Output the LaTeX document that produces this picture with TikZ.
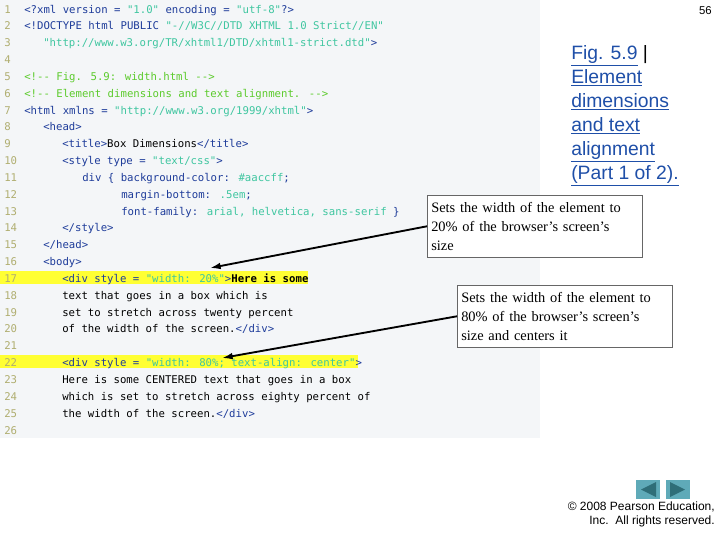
\documentclass[tikz,border=0pt]{standalone}
\usepackage{fontspec}
\usetikzlibrary{arrows.meta}
\setmainfont{Liberation Serif}
\newfontfamily\codef{DejaVu Sans Mono}
\newfontfamily\arial{Liberation Sans}
\definecolor{codebg}{HTML}{F4F6F8}
\definecolor{tagc}{HTML}{1E3C9A}
\definecolor{strc}{HTML}{3FC6A0}
\definecolor{cmc}{HTML}{5CCB2C}
\definecolor{numc}{HTML}{B0AE70}
\definecolor{hl}{HTML}{FFFF33}
\definecolor{linkc}{HTML}{1F4FA8}
\definecolor{navc}{HTML}{5FAAB8}
\definecolor{navd}{HTML}{2F6E78}
\newcommand\tg[1]{\textcolor{tagc}{#1}}
\newcommand\st[1]{\textcolor{strc}{#1}}
\newcommand\cm[1]{\textcolor{cmc}{#1}}
\newlength\px \setlength\px{0.75pt}
\tikzset{
  codeline/.style={anchor=base west,inner sep=0pt,font=\codef\fontsize{8}{9}\selectfont},
  lnum/.style={anchor=base west,inner sep=0pt,text=numc,font=\codef\fontsize{8}{9}\selectfont},
  callout/.style={draw=black!60,fill=white,anchor=north west,align=left,minimum width=215\px,minimum height=62\px,text width=207\px,inner sep=4\px,font=\fontsize{10.8}{14.2}\selectfont},
  arr/.style={-{Latex[length=8pt,width=5pt]},line width=1.4pt}
}
\begin{document}
\begin{tikzpicture}[x=0.75pt,y=-0.75pt]
\useasboundingbox (0,0) rectangle (720,540);
\fill[codebg] (0,0) rectangle (540,438);
\fill[hl] (0,271) rectangle (308,284);
\fill[hl] (0,355) rectangle (358,368);
\foreach \n in {1,...,26} { \node[lnum] (n\n) at (4,{13+(\n-1)*16.84}) {\n}; }
\def\Y#1{{13+(#1-1)*16.84}}
\node[codeline] (c1) at (24,\Y{1}) {\tg{<?xml version =} \st{"1.0"} \tg{encoding =} \st{"utf-8"}\tg{?>}};
\node[codeline] (c2) at (24,\Y{2}) {\tg{<!DOCTYPE html PUBLIC} \st{"-//W3C//DTD XHTML 1.0 Strict//EN"}};
\node[codeline] (c3) at (43,\Y{3}) {\st{"http://www.w3.org/TR/xhtml1/DTD/xhtml1-strict.dtd"}\tg{>}};
\node[codeline] (c5) at (24,\Y{5}) {\cm{<!-{}- Fig. 5.9: width.html -{}->}};
\node[codeline] (c6) at (24,\Y{6}) {\cm{<!-{}- Element dimensions and text alignment. -{}->}};
\node[codeline] (c7) at (24,\Y{7}) {\tg{<html xmlns =} \st{"http://www.w3.org/1999/xhtml"}\tg{>}};
\node[codeline] (c8) at (43,\Y{8}) {\tg{<head>}};
\node[codeline] (c9) at (62,\Y{9}) {\tg{<title>}Box Dimensions\tg{</title>}};
\node[codeline] (c10) at (62,\Y{10}) {\tg{<style type =} \st{"text/css"}\tg{>}};
\node[codeline] (c11) at (82,\Y{11}) {\tg{div \{ background-color:} \st{\#aaccff}\tg{;}};
\node[codeline] (c12) at (121,\Y{12}) {\tg{margin-bottom:} \st{.5em}\tg{;}};
\node[codeline] (c13) at (121,\Y{13}) {\tg{font-family:} \st{arial, helvetica, sans-serif} \tg{\}}};
\node[codeline] (c14) at (62,\Y{14}) {\tg{</style>}};
\node[codeline] (c15) at (43,\Y{15}) {\tg{</head>}};
\node[codeline] (c16) at (43,\Y{16}) {\tg{<body>}};
\node[codeline] (c17) at (62,\Y{17}) {\tg{<div style =} \st{"width: 20\%"}\tg{>}\textbf{Here is some}};
\node[codeline] (c18) at (62,\Y{18}) {text that goes in a box which is};
\node[codeline] (c19) at (62,\Y{19}) {set to stretch across twenty percent};
\node[codeline] (c20) at (62,\Y{20}) {of the width of the screen.\tg{</div>}};
\node[codeline] (c22) at (62,\Y{22}) {\tg{<div style =} \st{"width: 80\%; text-align: center"}\tg{>}};
\node[codeline] (c23) at (62,\Y{23}) {Here is some CENTERED text that goes in a box};
\node[codeline] (c24) at (62,\Y{24}) {which is set to stretch across eighty percent of};
\node[codeline] (c25) at (62,\Y{25}) {the width of the screen.\tg{</div>}};
\coordinate (t1) at (210,268);
\coordinate (t2) at (222,358);
\node[anchor=north east,inner sep=0pt,font=\arial\fontsize{8.5}{9}\selectfont] (pg) at (712,6) {56};
\node[anchor=north west,inner sep=0pt,align=left,text=linkc,font=\arial\fontsize{14.5}{18}\selectfont] (title) at (571,45)
 {\underline{Fig. 5.9} \textcolor{black}{|}\\ \underline{Element}\\ \underline{dimensions}\\ \underline{and text}\\ \underline{alignment}\\ \underline{(Part 1 of 2).}};
\node[callout] (b1) at (427,195) {Sets the width of the element to\\ 20\% of the browser’s screen’s\\ size};
\node[callout] (b2) at (457,285) {Sets the width of the element to\\ 80\% of the browser’s screen’s\\ size and centers it};
\draw[arr] (b1.west) -- (t1);
\draw[arr] (b2.west) -- (t2);
\fill[navc] (636,480) rectangle (660,499);
\fill[navc] (666,480) rectangle (690,499);
\fill[navd] (641,489.5) -- (656,482) -- (656,497) -- cycle;
\fill[navd] (685,489.5) -- (670,482) -- (670,497) -- cycle;
\node[anchor=north east,align=right,inner sep=0pt,font=\arial\fontsize{9}{10.5}\selectfont] (copy) at (715,502) {© 2008 Pearson Education,\\ Inc.\ \ All rights reserved.};
\end{tikzpicture}
\end{document}
